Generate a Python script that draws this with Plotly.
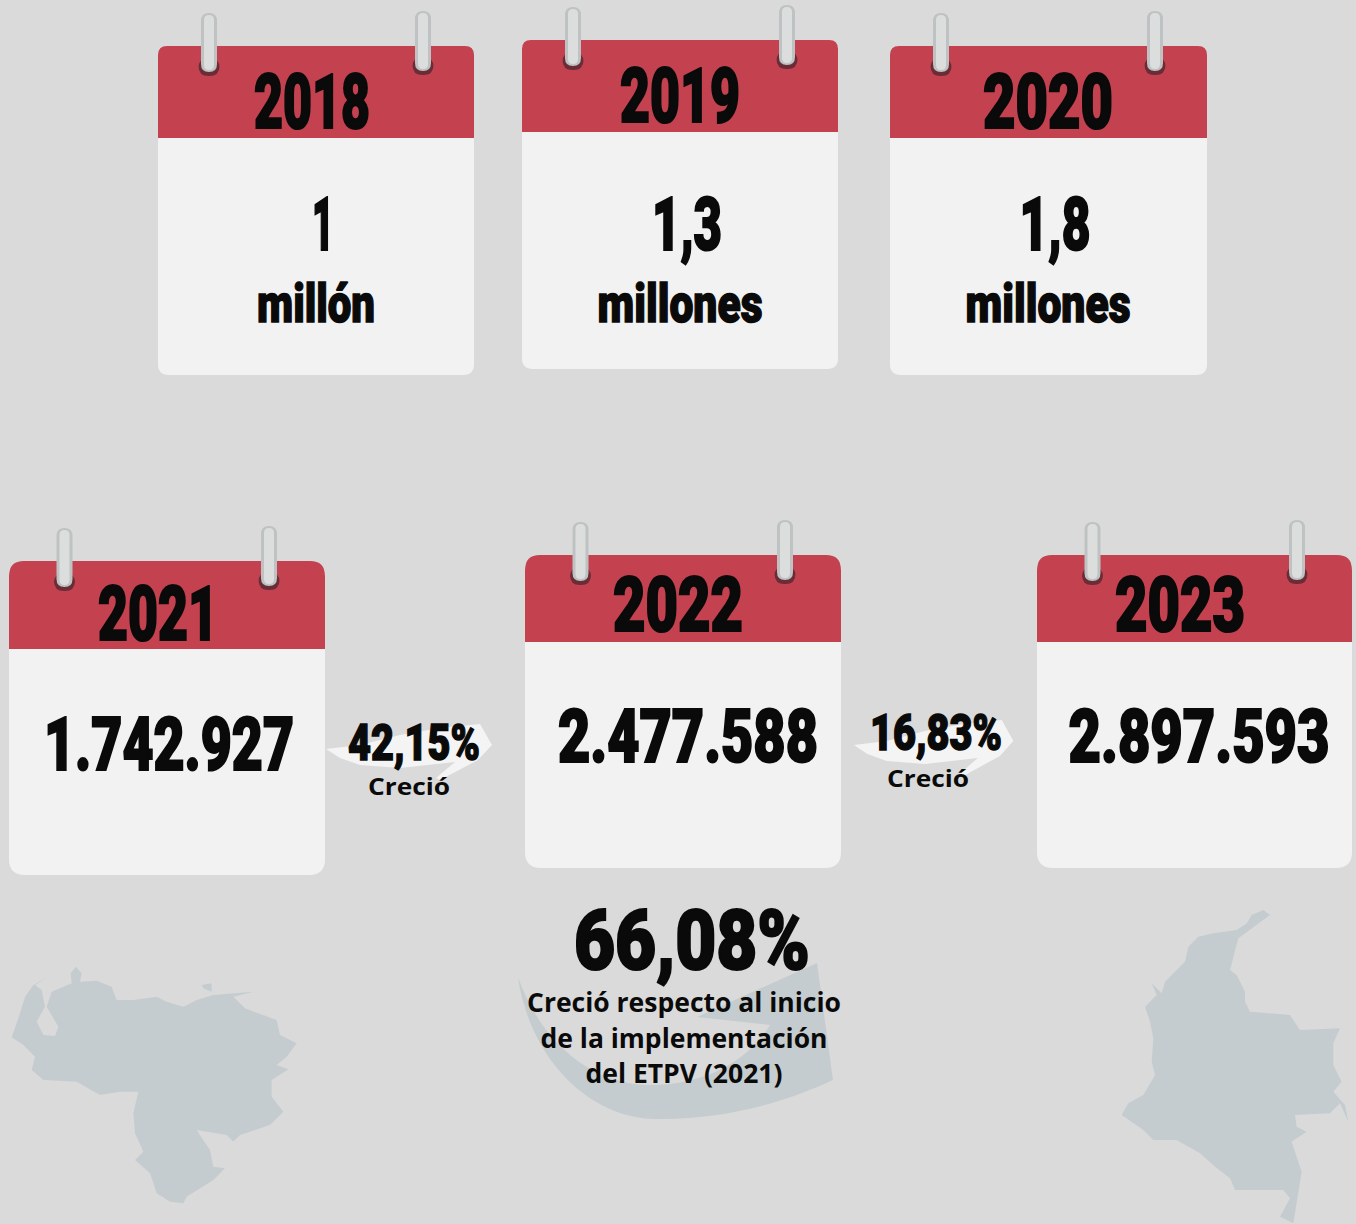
import json
import plotly.graph_objects as go

# ---------- data ----------
YEARS = ["2018", "2019", "2020", "2021", "2022", "2023"]
VALUES = ["1", "1,3", "1,8", "1.742.927", "2.477.588", "2.897.593"]
UNITS = ["millón", "millones", "millones"]
GROWTH = ["42,15%", "16,83%"]
GROWTH_NOTE = ["Creció", "Creció"]
TOTAL_GROWTH = ["66,08%"]
TOTAL_NOTE = ["Creció respecto al inicio", "de la implementación", "del ETPV (2021)"]

# ---------- layout (pixels) ----------
W, H = 1356, 1224
BG, RED, PAPER, MAP = "#dadada", "#c44250", "#f2f2f2", "#c5cccf"
CARDS = [(158, 474, 46, 375, 138), (522, 838, 40, 369, 132), (890, 1207, 46, 375, 138),
         (9, 325, 561, 875, 649), (525, 841, 555, 868, 642), (1037, 1352, 555, 868, 642)]
YEAR_XY = ([312, 680, 1048, 158, 678, 1180], [109, 103, 109, 621, 612, 612])
VALUE_XY = ([323, 687, 1055, 169, 688, 1199], [231, 231, 231, 751, 743, 743])
UNIT_XY = ([316, 680, 1048], [308, 308, 308])
GROWTH_XY = ([414, 936], [747, 737])
NOTE_XY = ([409, 928], [789, 781])
TOTAL_XY = ([692], [948])
TNOTE_XY = ([684, 684, 684], [1005, 1041, 1076])
WIDTHS = {"2018": 116, "2019": 120, "2020": 130, "2021": 120, "2022": 130, "2023": 130,
          "1": 22, "1,3": 70, "1,8": 71, "1.742.927": 250, "2.477.588": 260, "2.897.593": 261,
          "millón": 118, "millones": 165, "42,15%": 132, "16,83%": 132, "66,08%": 236,
          "Creció": 82, "Creció respecto al inicio": 314, "de la implementación": 287,
          "del ETPV (2021)": 197}

VENEZUELA = [(35,262),(60,190),(75,140),(100,105),(145,80),(105,105),(125,120),(135,170),(110,215),(130,255),
             (165,258),(175,230),(140,170),(155,125),(215,100),(212,70),(228,50),(245,70),(240,95),(290,92),
             (335,110),(350,150),(400,150),(470,140),(500,155),(550,170),(590,150),(640,135),(760,125),(700,140),
             (735,175),(830,210),(840,255),(890,280),(860,320),(830,345),(865,358),(815,390),(815,440),(850,485),
             (810,525),(720,555),(700,575),(680,555),(590,540),(630,600),(640,650),(675,655),(640,690),(560,740),
             (550,760),(510,755),(470,730),(450,670),(405,630),(430,605),(405,550),(400,490),(415,425),(360,425),
             (300,435),(230,395),(130,390),(95,360),(105,320),(70,285)]
MARGARITA = [(605,105),(635,100),(635,125),(610,115)]
COLOMBIA = [(510,60),(490,45),(455,60),(440,85),(410,105),(340,115),(295,125),(265,155),(255,200),(230,225),
            (195,260),(185,295),(155,265),(170,300),(135,335),(150,380),(160,430),(155,500),(165,540),(130,600),
            (85,625),(65,660),(130,705),(160,735),(230,735),(300,775),(345,815),(390,850),(405,885),(470,885),
            (550,885),(570,910),(540,965),(580,985),(605,830),(575,740),(620,710),(590,695),(585,660),(690,655),
            (720,625),(745,680),(735,630),(700,590),(725,560),(700,510),(700,445),(720,400),(600,405),(570,360),
            (450,350),(435,320),(435,290),(410,240),(390,225),(415,130)]
ARROW = [(326,749),(360,745),(400,735),(440,728),(480,724),(492,745),(478,760),(440,780),(436,778),
         (455,762),(400,768),(360,765),(340,758)]
ARROW_PLACES = [(1, 0, 0), (0.96, 541, -4)]


def poly(pts, sx=1, ox=0, oy=0, sy=None):
    sy = sx if sy is None else sy
    return "M " + " L ".join(f"{ox + x * sx},{oy + y * sy}" for x, y in pts) + " Z"


def rrect(x0, x1, y0, y1, rt, rb):
    return (f"M {x0+rt},{y0} L {x1-rt},{y0} Q {x1},{y0} {x1},{y0+rt} L {x1},{y1-rb} Q {x1},{y1} {x1-rb},{y1} "
            f"L {x0+rb},{y1} Q {x0},{y1} {x0},{y1-rb} L {x0},{y0+rt} Q {x0},{y0} {x0+rt},{y0} Z")


def add_path(shapes, path, color):
    shapes.append(dict(type="path", path=path, fillcolor=color, line=dict(width=0), layer="below",
                       xref="x", yref="y"))


shapes = []
add_path(shapes, poly(VENEZUELA, 1 / 3, 0, 950), MAP)
add_path(shapes, poly(MARGARITA, 1 / 3, 0, 950), MAP)
add_path(shapes, poly(COLOMBIA, 1 / 3, 1100, 895), MAP)
add_path(shapes, "M 518,977 C 530,1060 590,1118 655,1119 C 730,1120 790,1100 833,1080 L 817,963 L 697,1017 "
                 "L 770,1025 C 745,1065 700,1085 650,1085 C 590,1085 540,1040 518,977 Z", MAP)
for s, ox, oy in ARROW_PLACES:
    add_path(shapes, poly(ARROW, s, ox, oy, 1), "#f4f4f4")

for x0, x1, y0, y1, yh in CARDS:
    big = y0 > 500
    lx, rx_ = (55.5, 260) if big else (51, 265)
    add_path(shapes, rrect(x0, x1, y0 + 6, y1, 6, 16 if big else 11), PAPER)
    add_path(shapes, rrect(x0, x1, y0, yh, 15 if big else 9, 0), RED)
    for rx, top, bot in ((x0 + lx, y0 - 33, y0 + 26), (x0 + rx_, y0 - 35, y0 + 25)):
        add_path(shapes, rrect(rx - 10.5, rx + 10.5, bot - 14, bot + 4, 10, 10), "#6a2c36")
        add_path(shapes, rrect(rx - 8, rx + 8, top, bot, 8, 8), "#bfc2c2")
        add_path(shapes, rrect(rx - 5, rx + 5, top + 2, bot - 2, 5, 5), "#dcdedd")


def text_trace(xy, labels, family, size, weight=700):
    return go.Scatter(x=xy[0], y=xy[1], text=labels, mode="text", textposition="middle center",
                      hoverinfo="skip", showlegend=False, cliponaxis=False,
                      textfont=dict(family=family, size=size, color="#0a0a0a", weight=weight))


HEAVY = "Roboto"
OPEN = "Open Sans"
fig = go.Figure([
    text_trace(YEAR_XY, YEARS, HEAVY, 76, 900),
    text_trace(VALUE_XY, VALUES, HEAVY, 75, 900),
    text_trace(UNIT_XY, UNITS, HEAVY, 54, 900),
    text_trace(GROWTH_XY, GROWTH, HEAVY, 50, 900),
    text_trace(NOTE_XY, GROWTH_NOTE, OPEN, 24),
    text_trace(TOTAL_XY, TOTAL_GROWTH, HEAVY, 84, 900),
    text_trace(TNOTE_XY, TOTAL_NOTE, OPEN, 26),
])
fig.update_layout(width=W, height=H, margin=dict(l=0, r=0, t=0, b=0), paper_bgcolor=BG, plot_bgcolor=BG,
                  shapes=shapes, showlegend=False,
                  xaxis=dict(range=[0, W], visible=False, fixedrange=True),
                  yaxis=dict(range=[H, 0], visible=False, fixedrange=True))

post = """
document.body.style.margin='0';
var T=%s;
document.querySelectorAll('.textpoint text').forEach(function(el){
  var w=T[el.textContent];
  if(w){el.setAttribute('textLength',w);el.setAttribute('lengthAdjust','spacingAndGlyphs');}
  if((el.style.fontFamily||'').indexOf('Roboto')>=0){
    el.style.stroke='#0a0a0a';
    el.style.strokeWidth=(parseFloat(el.style.fontSize)>=70?'2.2px':'1.5px');
  }
});
""" % json.dumps(WIDTHS)
fig.write_html("out.html", post_script=post, config={"displayModeBar": False})
